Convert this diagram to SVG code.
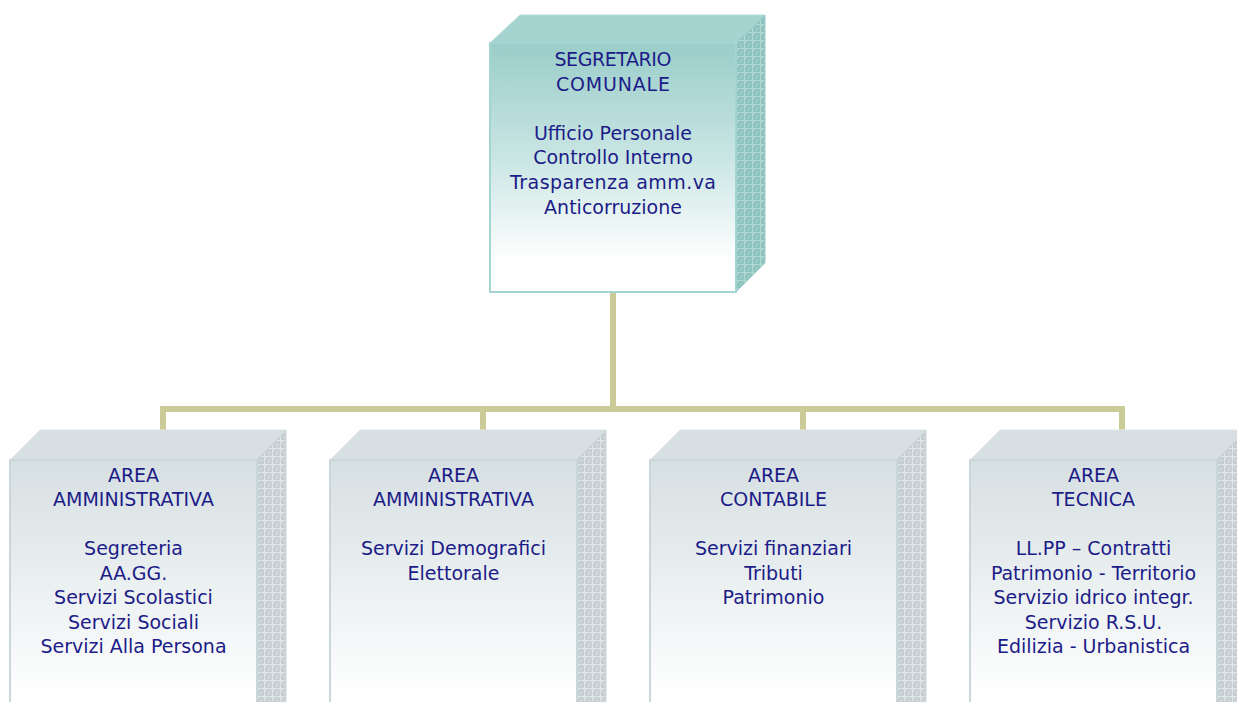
<svg xmlns="http://www.w3.org/2000/svg" width="1237" height="702" viewBox="0 0 1237 702">
  <style>
    .t { font-family: "DejaVu Sans", "Liberation Sans", sans-serif; font-size: 19px; fill: #1c1c88; text-anchor: middle; }
    .conn { stroke: #cbcb98; stroke-width: 6; fill: none; }
    .tealFront { fill: url(#gTeal); stroke: #a3d5d2; stroke-width: 2; }
    .tealTop { fill: #a5d3cf; stroke: #b3dcd9; stroke-width: 1; }
    .tealSide { fill: url(#pTeal); stroke: #98cac6; stroke-width: 1; }
    .grayFront { fill: url(#gGray); stroke: #c9d6da; stroke-width: 2; }
    .grayTop { fill: #d7dfe2; stroke: #e0e6e8; stroke-width: 1; }
    .graySide { fill: url(#pGray); stroke: #cbd2d5; stroke-width: 1; }
  </style>
  <defs>
    <linearGradient id="gTeal" x1="0" y1="0" x2="0" y2="1">
      <stop offset="0" stop-color="#9acdc9"/>
      <stop offset="0.45" stop-color="#c8e5e3"/>
      <stop offset="0.88" stop-color="#ffffff"/>
    </linearGradient>
    <linearGradient id="gGray" x1="0" y1="0" x2="0" y2="1">
      <stop offset="0" stop-color="#d6dfe2"/>
      <stop offset="0.5" stop-color="#ebf0f1"/>
      <stop offset="0.95" stop-color="#ffffff"/>
    </linearGradient>
    <pattern id="pTeal" width="8" height="8" patternUnits="userSpaceOnUse">
      <rect width="8" height="8" fill="#8fc4c0"/>
      <rect x="1" y="1" width="2" height="2" fill="#a0cfcb"/>
      <rect x="4" y="4" width="2" height="2" fill="#a0cfcb"/>
      <rect x="4" y="1" width="1" height="1" fill="#84bbb7"/>
      <rect x="1" y="5" width="1" height="1" fill="#84bbb7"/>
      <path d="M0,0.5H8M0.5,0V8" stroke="#b2dad7" stroke-width="1"/>
    </pattern>
    <pattern id="pGray" width="8" height="8" patternUnits="userSpaceOnUse">
      <rect width="8" height="8" fill="#c7cfd2"/>
      <rect x="1" y="1" width="2" height="2" fill="#d4dbde"/>
      <rect x="4" y="4" width="2" height="2" fill="#d4dbde"/>
      <rect x="4" y="1" width="1" height="1" fill="#bcc5c8"/>
      <rect x="1" y="5" width="1" height="1" fill="#bcc5c8"/>
      <path d="M0,0.5H8M0.5,0V8" stroke="#e1e6e8" stroke-width="1"/>
    </pattern>
  </defs>

  <g id="connectors">
    <path class="conn" d="M613,292 V409 M160,409 H1125 M163,409 V430 M483,409 V430 M803,409 V430 M1122,409 V430"/>
  </g>

  <g id="segretario">
    <polygon class="tealTop" points="490,43 520,15 765,15 736,43"/>
    <polygon class="tealSide" points="736,43 765,15 765,263 736,292"/>
    <rect class="tealFront" x="490" y="43" width="246" height="249"/>
    <text class="t" x="613" y="66" textLength="117">SEGRETARIO</text>
    <text class="t" x="613" y="91" textLength="114">COMUNALE</text>
    <text class="t" x="613" y="140">Ufficio Personale</text>
    <text class="t" x="613" y="164">Controllo Interno</text>
    <text class="t" x="613" y="189" textLength="206">Trasparenza  amm.va</text>
    <text class="t" x="613" y="214">Anticorruzione</text>
  </g>

  <g id="area1">
    <polygon class="grayTop" points="10,460 40,430 286,430 257,460"/>
    <polygon class="graySide" points="257,460 286,430 286,712 257,712"/>
    <rect class="grayFront" x="10" y="460" width="247" height="252"/>
    <text class="t" x="133.5" y="482">AREA</text>
    <text class="t" x="133.5" y="506">AMMINISTRATIVA</text>
    <text class="t" x="133.5" y="555">Segreteria</text>
    <text class="t" x="133.5" y="580">AA.GG.</text>
    <text class="t" x="133.5" y="604">Servizi Scolastici</text>
    <text class="t" x="133.5" y="629">Servizi Sociali</text>
    <text class="t" x="133.5" y="653">Servizi Alla Persona</text>
  </g>

  <g id="area2">
    <polygon class="grayTop" points="330,460 360,430 606,430 577,460"/>
    <polygon class="graySide" points="577,460 606,430 606,712 577,712"/>
    <rect class="grayFront" x="330" y="460" width="247" height="252"/>
    <text class="t" x="453.5" y="482">AREA</text>
    <text class="t" x="453.5" y="506">AMMINISTRATIVA</text>
    <text class="t" x="453.5" y="555">Servizi Demografici</text>
    <text class="t" x="453.5" y="580">Elettorale</text>
  </g>

  <g id="area3">
    <polygon class="grayTop" points="650,460 680,430 926,430 897,460"/>
    <polygon class="graySide" points="897,460 926,430 926,712 897,712"/>
    <rect class="grayFront" x="650" y="460" width="247" height="252"/>
    <text class="t" x="773.5" y="482">AREA</text>
    <text class="t" x="773.5" y="506">CONTABILE</text>
    <text class="t" x="773.5" y="555">Servizi finanziari</text>
    <text class="t" x="773.5" y="580">Tributi</text>
    <text class="t" x="773.5" y="604">Patrimonio</text>
  </g>

  <g id="area4">
    <polygon class="grayTop" points="970,460 1000,430 1246,430 1217,460"/>
    <polygon class="graySide" points="1217,460 1246,430 1246,712 1217,712"/>
    <rect class="grayFront" x="970" y="460" width="247" height="252"/>
    <text class="t" x="1093.5" y="482">AREA</text>
    <text class="t" x="1093.5" y="506">TECNICA</text>
    <text class="t" x="1093.5" y="555">LL.PP – Contratti</text>
    <text class="t" x="1093.5" y="580">Patrimonio - Territorio</text>
    <text class="t" x="1093.5" y="604">Servizio idrico integr.</text>
    <text class="t" x="1093.5" y="629">Servizio R.S.U.</text>
    <text class="t" x="1093.5" y="653">Edilizia - Urbanistica</text>
  </g>
</svg>
